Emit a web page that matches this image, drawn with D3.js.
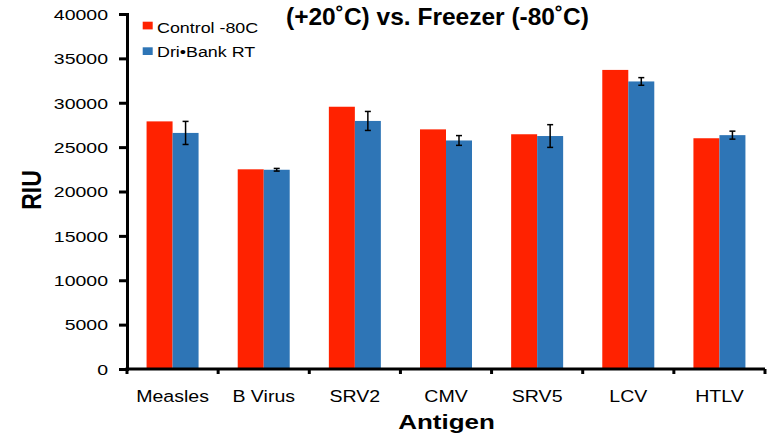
<!DOCTYPE html>
<html><head><meta charset="utf-8">
<script src="https://cdn.jsdelivr.net/npm/d3@7"></script>
<style>body{margin:0;background:#fff;}svg{display:block;font-family:"Liberation Sans",Arial,sans-serif;}</style>
</head><body>
<svg id="c" width="768" height="435"></svg>
<script>
const categories = ["Measles","B Virus","SRV2","CMV","SRV5","LCV","HTLV"];
const seriesNames = ["Control -80C","Dri•Bank RT"];
const control = [27900, 22500, 29550, 27000, 26450, 33700, 26000];
const driBank = [26600, 22450, 27950, 25750, 26250, 32400, 26350];
const driBankErr = [1300, 150, 1070, 550, 1280, 430, 450];
const yTicks = [0,5000,10000,15000,20000,25000,30000,35000,40000];
const colors = ["#FF2200","#2E75B6"];

const svg = d3.select("#c");
const m = {l:127, r:3, t:14, b:66};
const W = 768, H = 435;
const x = d3.scaleBand().domain(categories).range([m.l, W-m.r]).paddingInner(0).paddingOuter(0);
const y = d3.scaleLinear().domain([0,40000]).range([H-m.b, m.t]);
const bw = 26;

const g = svg.append("g");
const series = [control, driBank];
series.forEach((vals, si) => {
  g.selectAll(".b"+si).data(categories).enter().append("rect")
    .attr("x", d => x(d) + x.bandwidth()/2 - bw + si*bw)
    .attr("y", (d,i) => y(vals[i]))
    .attr("width", bw)
    .attr("height", (d,i) => y(0) - y(vals[i]))
    .attr("fill", colors[si]);
});
// error bars
const eb = g.selectAll(".eb").data(categories).enter().append("g")
  .attr("stroke","#000").attr("stroke-width",1.5);
eb.append("line")
  .attr("x1", d => x(d)+x.bandwidth()/2+bw/2).attr("x2", d => x(d)+x.bandwidth()/2+bw/2)
  .attr("y1",(d,i)=>y(driBank[i]+driBankErr[i])).attr("y2",(d,i)=>y(driBank[i]-driBankErr[i]));
[1,-1].forEach(s=>{
  eb.append("line")
    .attr("x1", d => x(d)+x.bandwidth()/2+bw/2-3).attr("x2", d => x(d)+x.bandwidth()/2+bw/2+3)
    .attr("y1",(d,i)=>y(driBank[i]+s*driBankErr[i])).attr("y2",(d,i)=>y(driBank[i]+s*driBankErr[i]));
});

// y axis
const ya = svg.append("g").attr("transform",`translate(${m.l},0)`)
  .call(d3.axisLeft(y).tickValues(yTicks).tickFormat(d3.format("d")).tickSize(8).tickPadding(8));
ya.select(".domain").attr("stroke","#000").attr("stroke-width",3);
ya.selectAll(".tick line").attr("stroke","#000").attr("stroke-width",3);
ya.selectAll(".tick text").attr("font-size",15).attr("fill","#000")
  .attr("x",0).attr("dy",null).attr("y",0)
  .attr("transform","translate(-19,5.3) scale(1.3,1)");

// x axis
const xa = svg.append("g").attr("transform",`translate(0,${y(0)})`)
  .call(d3.axisBottom(x).tickSize(0).tickPadding(20));
xa.select(".domain").remove();
xa.append("line").attr("x1",m.l-1.5).attr("x2",W-m.r).attr("y1",0).attr("y2",0).attr("stroke","#000").attr("stroke-width",3);
const bounds = categories.map(c=>x(c)).concat([x(categories[categories.length-1])+x.bandwidth()]);
xa.selectAll(".bt").data(bounds).enter().append("line")
  .attr("x1",d=>d).attr("x2",d=>d).attr("y1",0).attr("y2",5).attr("stroke","#000").attr("stroke-width",3);
xa.selectAll(".tick text").attr("font-size",16.3).attr("fill","#000")
  .attr("y",0).attr("dy",null)
  .attr("transform","translate(0,33) scale(1.2,1)");

// axis titles
svg.append("text").attr("transform","translate(446.5,429) scale(1.3,1)").attr("text-anchor","middle")
  .attr("font-size",20).attr("font-weight","bold").text("Antigen");
svg.append("text").attr("transform","translate(41,190) rotate(-90) scale(1,1.17)").attr("text-anchor","middle")
  .attr("font-size",23).attr("font-weight","bold").text("RIU");

// title
svg.append("text").attr("x",437.5).attr("y",25).attr("text-anchor","middle")
  .attr("font-size",24.5).attr("font-weight","bold").text("(+20˚C) vs. Freezer (-80˚C)");

// legend
const lg = svg.append("g");
seriesNames.forEach((n,i)=>{
  lg.append("rect").attr("x",142.7).attr("y",21.7+i*25.6).attr("width",10).attr("height",7.7).attr("fill",colors[i]);
  lg.append("text").attr("transform",`translate(157,${32.7+i*24}) scale(1.16,1)`).attr("font-size",15.4).text(n);
});
</script>
</body></html>
